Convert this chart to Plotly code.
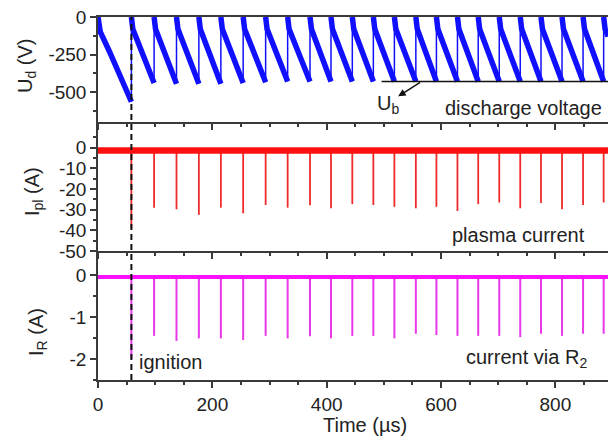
import plotly.graph_objects as go

# ---------------- data ----------------
# reset / pulse times in microseconds (first one = ignition)
t_reset = [58.4, 98.1, 137.3, 176.4, 214.9, 253.9, 293.2, 331.7, 370.8, 407.5,
           444.8, 481.6, 518.4, 555.9, 591.9, 628.7, 665.0, 701.8, 738.5, 774.8,
           811.6, 848.4, 884.4]
t_ignition = 58.4

# discharge voltage: first charging ramp, then sawtooth minima
ud_first_t = [0, 4, 20, 40, 58.4]
ud_first_v = [0, -100, -230, -400, -565]
ud_min = [-440, -445, -445, -445, -440, -435, -430, -430, -430, -430, -430,
          -430, -430, -430, -430, -430, -430, -430, -430, -430, -430, -430]
ud_knee_dt = 2.5
ud_knee_v = -80
t_end = 892
ud_end_v = -130
ub_level = -430
ub_start = 496

# plasma current
ipl_base = -1.3
ipl_peak = [-39, -29, -29.8, -32.5, -29, -31.8, -27.7, -29, -27.8, -29.3, -27.3,
            -27.7, -28.6, -29.3, -28.6, -30.6, -27.3, -26.5, -29.3, -26.8, -29.8,
            -27.7, -26.5]

# current via R2
ir_base = -0.05
ir_peak = [-2.0, -1.45, -1.57, -1.51, -1.51, -1.55, -1.45, -1.51, -1.46, -1.51,
           -1.45, -1.45, -1.51, -1.40, -1.43, -1.45, -1.45, -1.45, -1.48, -1.40,
           -1.45, -1.40, -1.40]

x_major = [0, 200, 400, 600, 800]
x_minor = [v for v in range(50, 900, 50) if v % 200 != 0]

# ---------------- build traces ----------------
FONT = "Liberation Sans, Arial, sans-serif"
TXT = "#222222"
AX = "#3a3a3a"
BLUE = "#1010ff"
RED = "#ff1010"
MAG = "#ff10ff"

# ramps (thick)
rx, ry = list(ud_first_t) + [None], list(ud_first_v) + [None]
for i in range(len(t_reset) - 1):
    rx += [t_reset[i], t_reset[i] + ud_knee_dt, t_reset[i + 1], None]
    ry += [0, ud_knee_v, ud_min[i], None]
rx += [t_reset[-1], t_reset[-1] + ud_knee_dt, t_end]
ry += [0, ud_knee_v, ud_end_v]

# resets (thin vertical)
sx, sy = [], []
prev = [ud_first_v[-1]] + ud_min
for i, t in enumerate(t_reset):
    sx += [t, t, None]
    sy += [prev[i], 0, None]

# spikes
px_, py_ = [], []
for t, v in zip(t_reset, ipl_peak):
    px_ += [t, t, None]
    py_ += [ipl_base, v, None]
qx, qy = [], []
for t, v in zip(t_reset, ir_peak):
    qx += [t, t, None]
    qy += [ir_base, v, None]

fig = go.Figure()
fig.add_trace(go.Scatter(x=sx, y=sy, mode="lines", line=dict(color=BLUE, width=1.5),
                         xaxis="x", yaxis="y", hoverinfo="skip"))
fig.add_trace(go.Scatter(x=rx, y=ry, mode="lines", line=dict(color=BLUE, width=5.5),
                         xaxis="x", yaxis="y", hoverinfo="skip"))
fig.add_trace(go.Scatter(x=[ub_start, t_end], y=[ub_level, ub_level], mode="lines",
                         line=dict(color="#111111", width=1.5), xaxis="x", yaxis="y"))

fig.add_trace(go.Scatter(x=px_, y=py_, mode="lines", line=dict(color="#ee2a2a", width=1.8),
                         xaxis="x2", yaxis="y2"))
fig.add_trace(go.Scatter(x=[0, t_end], y=[ipl_base, ipl_base], mode="lines",
                         line=dict(color=RED, width=6.5), xaxis="x2", yaxis="y2"))

fig.add_trace(go.Scatter(x=qx, y=qy, mode="lines", line=dict(color="#e838e8", width=2),
                         xaxis="x3", yaxis="y3"))
fig.add_trace(go.Scatter(x=[0, t_end], y=[ir_base, ir_base], mode="lines",
                         line=dict(color=MAG, width=4), xaxis="x3", yaxis="y3"))

# ---------------- layout ----------------
def xax(anchor, labels, mirror=False):
    return dict(domain=[0, 1], anchor=anchor, range=[0, t_end],
                showline=True, linecolor=AX, linewidth=1.5, mirror=mirror,
                showgrid=False, zeroline=False,
                tickmode="array", tickvals=x_major,
                ticktext=[str(v) for v in x_major],
                showticklabels=labels, ticks="outside", ticklen=6, tickwidth=1.5,
                tickcolor=AX,
                minor=dict(tickmode="array", tickvals=x_minor, ticks="outside",
                           ticklen=3.5, tickwidth=1.5, tickcolor=AX),
                tickfont=dict(family=FONT, size=19, color=TXT))


def yax(domain, rng, major, minor, anchor):
    return dict(domain=domain, anchor=anchor, range=rng,
                showline=True, linecolor=AX, linewidth=1.5,
                showgrid=False, zeroline=False,
                tickmode="array", tickvals=major,
                ticktext=[("-" + str(abs(v))) if v < 0 else str(v) for v in major],
                ticks="outside", ticklen=6, tickwidth=1.5, tickcolor=AX,
                minor=dict(tickmode="array", tickvals=minor, ticks="outside",
                           ticklen=3.5, tickwidth=1.5, tickcolor=AX),
                tickfont=dict(family=FONT, size=19, color=TXT))


H = 363.0
d_top = [(380 - 122) / H, 1]
d_mid = [(380 - 251) / H, (380 - 122) / H]
d_bot = [0, (380 - 251) / H]

fig.update_layout(
    width=608, height=443,
    margin=dict(l=98, r=0, t=17, b=63),
    paper_bgcolor="white", plot_bgcolor="white",
    showlegend=False,
    xaxis=xax("y", False, mirror=True),
    xaxis2=xax("y2", False),
    xaxis3=xax("y3", True),
    yaxis=yax(d_top, [-700, 0], [0, -250, -500], [-125, -375, -625], "x"),
    yaxis2=yax(d_mid, [-50, 12.5], [0, -10, -20, -30, -40, -50],
               [5, -5, -15, -25, -35, -45], "x2"),
    yaxis3=yax(d_bot, [-2.5, 0.57], [0, -1, -2], [-0.5, -1.5, -2.5], "x3"),
)

# ignition dashed line across all panels
fig.add_shape(type="line", xref="x", yref="paper", x0=t_ignition, x1=t_ignition,
              y0=0, y1=1, line=dict(color="#111111", width=2, dash="6px,4px"),
              layer="above")

ann_font = dict(family=FONT, size=20, color=TXT)
annotations = [
    dict(text="U<sub>d</sub> (V)", xref="paper", yref="paper",
         x=(26 - 98) / 510, y=(380 - 66) / H, textangle=-90, showarrow=False,
         xanchor="center", yanchor="middle", font=ann_font),
    dict(text="I<sub>pl</sub> (A)", xref="paper", yref="paper",
         x=(33 - 98) / 510, y=(380 - 192) / H, textangle=-90, showarrow=False,
         xanchor="center", yanchor="middle", font=ann_font),
    dict(text="I<sub>R</sub> (A)", xref="paper", yref="paper",
         x=(37 - 98) / 510, y=(380 - 332) / H, textangle=-90, showarrow=False,
         xanchor="center", yanchor="middle", font=ann_font),
    dict(text="Time (\u00b5s)", xref="paper", yref="paper",
         x=(365 - 98) / 510, y=(380 - 425) / H, showarrow=False,
         xanchor="center", yanchor="middle", font=ann_font),
    dict(text="discharge voltage", xref="x", yref="y", x=744.7, y=-604,
         showarrow=False, xanchor="center", yanchor="middle", font=ann_font),
    dict(text="U<sub>b</sub>", xref="x", yref="y", x=507, y=-580,
         showarrow=False, xanchor="center", yanchor="middle", font=ann_font),
    dict(text="", xref="x", yref="y", x=525, y=-529, axref="x", ayref="y",
         ax=566, ay=ub_level, showarrow=True, arrowhead=2, arrowsize=1,
         arrowwidth=1.5, arrowcolor="#111111"),
    dict(text="plasma current", xref="x2", yref="y2", x=736, y=-42.3,
         showarrow=False, xanchor="center", yanchor="middle", font=ann_font),
    dict(text="current via R<sub>2</sub>", xref="x3", yref="y3", x=749, y=-1.98,
         showarrow=False, xanchor="center", yanchor="middle", font=ann_font),
    dict(text="ignition", xref="x3", yref="y3", x=126.4, y=-2.07,
         showarrow=False, xanchor="center", yanchor="middle", font=ann_font),
]
fig.update_layout(annotations=annotations)

fig.write_html("out.html")
